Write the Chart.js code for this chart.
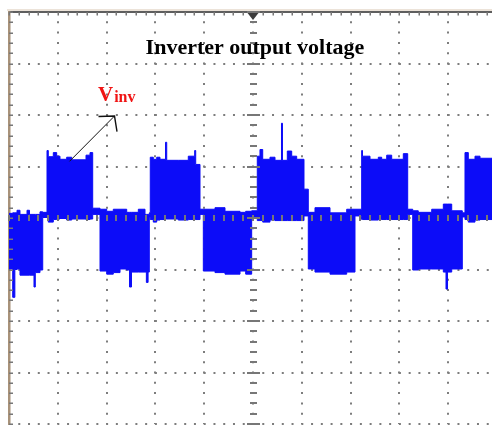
<!DOCTYPE html>
<html>
<head>
<meta charset="utf-8">
<script src="https://cdn.jsdelivr.net/npm/chart.js@4/dist/chart.umd.min.js"></script>
<style>
  html, body { margin: 0; padding: 0; background: #fff; overflow: hidden; }
  #wrap { width: 492px; height: 425px; overflow: hidden; position: relative; background: #fff; }
  canvas { display: block; }
</style>
</head>
<body>
<div id="wrap"><canvas id="scope" width="500" height="430"></canvas></div>
<script>
// Inverter output voltage trace (scope screen units: divisions).
// The PWM switching fills each half cycle, so the trace is kept as its
// upper and lower envelope; each sample holds until the next one.
const sweepDiv = [
  0.000, 0.076, 0.120, 0.164, 0.225, 0.369, 0.420, 0.512, 0.539, 0.635,
  0.691, 0.779, 0.805, 0.908, 0.977, 1.045, 1.182, 1.285, 1.578, 1.660,
  1.715, 1.865, 2.002, 2.137, 2.275, 2.412, 2.470, 2.510, 2.650, 2.787,
  2.815, 2.850, 2.875, 2.895, 2.957, 3.027, 3.094, 3.207, 3.232, 3.469,
  3.674, 3.805, 3.826, 3.914, 3.982, 4.221, 4.426, 4.734, 4.850, 4.973,
  5.088, 5.143, 5.199, 5.348, 5.451, 5.584, 5.604, 5.703, 5.793, 5.895,
  6.045, 6.133, 6.270, 6.578, 6.920, 7.090, 7.227, 7.244, 7.398, 7.568,
  7.637, 7.740, 7.842, 8.080, 8.170, 8.273, 8.387, 8.662, 8.900, 8.955,
  8.986, 9.072, 9.289, 9.344, 9.412, 9.549, 9.652, 10.000
];
const traceHigh = [
  0.09, 0.10, 0.10, 0.15, 0.07, 0.15, 0.07, 0.07, 0.07, 0.12,
  0.11, 1.31, 1.19, 1.27, 1.20, 1.14, 1.18, 1.13, 1.22, 1.27,
  0.19, 0.17, 0.13, 0.17, 0.17, 0.11, 0.11, 0.11, 0.17, 0.07,
  0.07, 0.07, 0.10, 1.18, 1.14, 1.18, 1.14, 1.47, 1.12, 1.12,
  1.20, 1.31, 1.04, 0.17, 0.17, 0.20, 0.13, 0.11, 0.13, 0.14,
  1.20, 1.33, 1.14, 1.18, 1.12, 1.84, 1.12, 1.30, 1.20, 1.14,
  0.56, 0.11, 0.20, 0.10, 0.17, 0.17, 1.31, 1.20, 1.14, 1.18,
  1.14, 1.22, 1.14, 1.25, 0.17, 0.14, 0.11, 0.17, 0.27, 0.27,
  0.27, 0.14, 0.10, 1.27, 1.14, 1.20, 1.16, 1.14
];
const traceLow = [
  -0.99, -1.54, -1.00, -0.99, -1.11, -1.11, -1.11, -1.34, -1.06, -1.01,
   0.01,  0.01, -0.08, -0.03, -0.02, -0.01, -0.04, -0.02, -0.03, -0.02,
   0.07, -1.03, -1.09, -1.06, -0.99, -1.01, -1.34, -1.05, -1.05, -1.05,
  -1.25, -1.05,  0.02, -0.03, -0.08, -0.04, -0.03, -0.02, -0.02, -0.04,
  -0.03, -0.03, -0.03,  0.07, -1.03, -1.06, -1.09, -1.03, -1.09,  0.01,
  -0.05, -0.05, -0.08, -0.04, -0.05, -0.05, -0.05, -0.05, -0.05, -0.05,
   0.04, -0.99, -1.05, -1.09, -1.05,  0.04, -0.03, -0.03, -0.04, -0.03,
  -0.03, -0.03, -0.03, -0.03,  0.07, -1.01, -0.99, -0.99, -1.05, -1.38,
  -1.05, -0.99,  0.02, -0.03, -0.08, -0.04, -0.03, -0.04
];

// Screen graticule: 10 x 8 divisions, 5 minor marks per division
const xDivisions = [0, 10];
const yDivisions = [-4, 4];
const minorPerDiv = 5;

const titleText = 'Inverter output voltage';
const traceName = 'V';
const traceSub = 'inv';

const traceBlue = 'rgb(12, 12, 248)';
const dotGrey = '#7d7d7d';

const screenMarks = {
  id: 'screenMarks',
  afterDatasetsDraw(chart) {
    const { ctx, chartArea: a, scales: { x, y } } = chart;
    const cx = x.getPixelForValue(5);
    const cy = y.getPixelForValue(0);
    ctx.save();
    ctx.fillStyle = '#777';
    const step = 1 / minorPerDiv;
    for (let i = 0; i <= (xDivisions[1] - xDivisions[0]) * minorPerDiv; i++) {
      const px = x.getPixelForValue(xDivisions[0] + i * step);
      ctx.fillRect(Math.round(px) - 1, Math.round(cy) - 3, 2, 6);      // centre axis marks
      ctx.fillRect(Math.round(px) - 0.5, a.top, 1.5, 3.5);               // top edge marks
    }
    for (let i = 0; i <= (yDivisions[1] - yDivisions[0]) * minorPerDiv; i++) {
      const py = y.getPixelForValue(yDivisions[0] + i * step);
      const w = (i % minorPerDiv === 0) ? 13 : 7;
      ctx.fillRect(Math.round(cx - w / 2), Math.round(py) - 1, w, 2);  // centre axis marks
      ctx.fillRect(a.left, Math.round(py) - 0.5, 4, 1.5);               // left edge marks
    }
    ctx.restore();
  },
  afterDraw(chart) {
    const { ctx, chartArea: a, scales: { x, y } } = chart;
    ctx.save();
    // frame highlight above the top edge
    ctx.fillStyle = '#d9c8b4';
    ctx.fillRect(a.left - 2, a.top - 2.5, a.right - a.left + 2, 1);
    // trigger position marker
    const tx = x.getPixelForValue(5);
    ctx.fillStyle = '#3c3c3c';
    ctx.beginPath();
    ctx.moveTo(tx - 5.5, a.top + 1);
    ctx.lineTo(tx + 5.5, a.top + 1);
    ctx.lineTo(tx, a.top + 8);
    ctx.closePath();
    ctx.fill();

    // title
    ctx.fillStyle = '#000';
    ctx.font = 'bold 22px "Liberation Serif", "DejaVu Serif", serif';
    ctx.textAlign = 'center';
    ctx.textBaseline = 'alphabetic';
    ctx.fillText(titleText, x.getPixelForValue(5.04), y.getPixelForValue(3.19));

    // trace label
    ctx.fillStyle = '#f01414';
    ctx.textAlign = 'left';
    ctx.font = 'bold 21px "Liberation Serif", "DejaVu Serif", serif';
    const lx = x.getPixelForValue(1.824);
    const ly = y.getPixelForValue(2.28);
    ctx.fillText(traceName, lx, ly);
    const vw = ctx.measureText(traceName).width;
    ctx.font = 'bold 16px "Liberation Serif", "DejaVu Serif", serif';
    ctx.fillText(traceSub, lx + vw + 1, y.getPixelForValue(2.25));

    // arrow pointing at the trace label
    const x0 = x.getPixelForValue(1.24), y0 = y.getPixelForValue(1.10);
    const x1 = x.getPixelForValue(2.162), y1 = y.getPixelForValue(1.98);
    ctx.strokeStyle = '#111';
    ctx.lineWidth = 1;
    ctx.beginPath();
    ctx.moveTo(x0, y0);
    ctx.lineTo(x1, y1);
    ctx.stroke();
    ctx.lineWidth = 1.4;
    ctx.beginPath();
    ctx.moveTo(x1 - 16, y1 + 0.5);
    ctx.lineTo(x1, y1);
    ctx.lineTo(x1 + 2.5, y1 + 15.5);
    ctx.stroke();
    ctx.restore();
  }
};

const highPts = sweepDiv.map((t, i) => ({ x: t, y: traceHigh[i] }));
const lowPts = sweepDiv.map((t, i) => ({ x: t, y: traceLow[i] }));

new Chart(document.getElementById('scope'), {
  type: 'line',
  data: {
    datasets: [
      {
        label: 'Vinv max',
        data: highPts,
        stepped: true,
        borderColor: traceBlue,
        backgroundColor: traceBlue,
        borderWidth: 1,
        pointRadius: 0,
        fill: '+1'
      },
      {
        label: 'Vinv min',
        data: lowPts,
        stepped: true,
        borderColor: traceBlue,
        backgroundColor: traceBlue,
        borderWidth: 1,
        pointRadius: 0,
        fill: false
      }
    ]
  },
  options: {
    responsive: false,
    devicePixelRatio: 1,
    animation: false,
    events: [],
    layout: { padding: { left: 9, top: 12, right: 3, bottom: 6 } },
    plugins: { legend: { display: false }, tooltip: { enabled: false }, title: { display: false } },
    scales: {
      x: {
        type: 'linear',
        position: 'top',
        min: xDivisions[0],
        max: xDivisions[1],
        z: 1,
        ticks: { display: false, stepSize: 1 },
        grid: { color: dotGrey, lineWidth: 2, drawTicks: false },
        border: { display: true, color: '#5e5e5e', width: 2, dash: [2, 8.3], dashOffset: 2 }
      },
      y: {
        type: 'linear',
        position: 'left',
        min: yDivisions[0],
        max: yDivisions[1],
        z: 1,
        ticks: { display: false, stepSize: 1 },
        grid: { color: dotGrey, lineWidth: 2, drawTicks: false },
        border: { display: true, color: '#a8927a', width: 2.5, dash: [2, 7.76], dashOffset: 2 }
      }
    }
  },
  plugins: [screenMarks]
});
</script>
</body>
</html>
